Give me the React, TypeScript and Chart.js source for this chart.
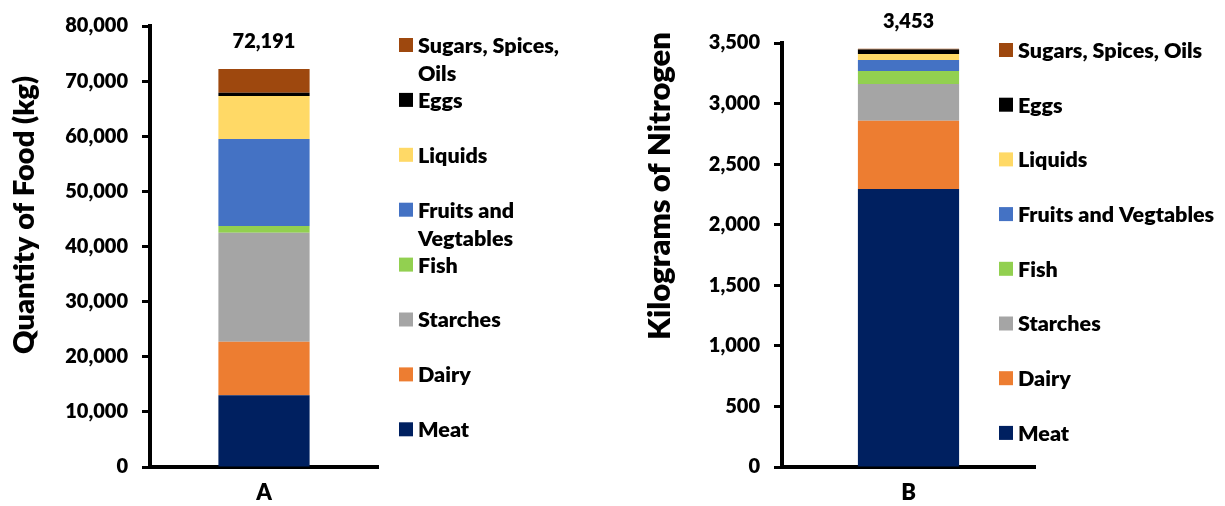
import React, { useEffect, useRef } from 'react';
import { Chart, registerables } from 'chart.js';

Chart.register(...registerables);

const FONT = 'Lato';
const WEIGHT = '800';

// Series (stack order bottom -> top)
const seriesNames = [
  'Meat',
  'Dairy',
  'Starches',
  'Fish',
  'Fruits and Vegtables',
  'Liquids',
  'Eggs',
  'Sugars, Spices, Oils',
];
const seriesColors = ['#002060', '#ED7D31', '#A5A5A5', '#92D050', '#4472C4', '#FFD966', '#000000', '#9E480E'];

// Panel A: quantity of food (kg)
const foodCategories = ['A'];
const foodQuantityKg = [13000, 9700, 19800, 1200, 15800, 7800, 600, 4291];
const foodAxis = { min: 0, max: 80000, step: 10000 };
const foodAxisTitle = 'Quantity of Food (kg)';

// Panel B: kilograms of nitrogen
const nitrogenCategories = ['B'];
const nitrogenKg = [2295, 564, 303, 107, 91, 49, 38, 6];
const nitrogenAxis = { min: 0, max: 3500, step: 500 };
const nitrogenAxisTitle = 'Kilograms of Nitrogen';

function wrapText(ctx: CanvasRenderingContext2D, text: string, maxWidth: number): string[] {
  const words = text.split(' ');
  const lines: string[] = [];
  let cur = '';
  for (const w of words) {
    const test = cur ? cur + ' ' + w : w;
    if (cur && ctx.measureText(test).width > maxWidth) {
      lines.push(cur);
      cur = w;
    } else {
      cur = test;
    }
  }
  if (cur) lines.push(cur);
  return lines;
}

const decoPlugin = {
  id: 'deco',
  afterDraw(chart: any, _args: any, opts: any) {
    const ctx: CanvasRenderingContext2D = chart.ctx;
    ctx.save();
    ctx.fillStyle = '#000';
    // totals above stacks
    ctx.font = `${WEIGHT} ${opts.totalSize}px ${FONT}`;
    ctx.textAlign = 'center';
    ctx.textBaseline = 'middle';
    const metas = chart.getSortedVisibleDatasetMetas();
    const labels = chart.data.labels as string[];
    for (let i = 0; i < labels.length; i++) {
      let total = 0;
      chart.data.datasets.forEach((d: any) => (total += Number(d.data[i])));
      const x = metas[0].data[i].x;
      const y = chart.scales.y.getPixelForValue(total);
      ctx.fillText(total.toLocaleString('en-US'), x, y - opts.totalOffset);
    }
    // legend (reverse order: top of stack first)
    ctx.font = `${WEIGHT} ${opts.legendSize}px ${FONT}`;
    ctx.textAlign = 'left';
    const ds = chart.data.datasets;
    for (let k = 0; k < ds.length; k++) {
      const d = ds[ds.length - 1 - k];
      const cy = opts.legendTop + k * opts.legendSpacing;
      ctx.fillStyle = d.backgroundColor;
      ctx.fillRect(opts.legendX, cy - opts.box / 2, opts.box, opts.box);
      ctx.fillStyle = '#000';
      const lines = wrapText(ctx, d.label, opts.legendMaxWidth);
      lines.forEach((ln, j) => {
        ctx.fillText(ln, opts.legendX + opts.box + 5, cy + j * opts.legendLineHeight + 1);
      });
    }
    // y axis title
    ctx.font = `${WEIGHT} ${opts.titleSize}px ${FONT}`;
    ctx.textAlign = 'center';
    ctx.translate(opts.titleX, opts.titleY);
    ctx.rotate(-Math.PI / 2);
    ctx.fillText(opts.title, 0, 0);
    ctx.restore();
  },
};

type PanelProps = {
  categories: string[];
  values: number[];
  axis: { min: number; max: number; step: number };
  deco: any;
  left: number;
  width: number;
  height: number;
};

function Panel({ categories, values, axis, deco, left, width, height }: PanelProps) {
  const ref = useRef<HTMLCanvasElement>(null);
  useEffect(() => {
    const chart = new Chart(ref.current as HTMLCanvasElement, {
      type: 'bar',
      data: {
        labels: categories,
        datasets: seriesNames.map((name, i) => ({
          label: name,
          data: [values[i]],
          backgroundColor: seriesColors[i],
          borderWidth: 0,
          barPercentage: 0.4,
          categoryPercentage: 1,
        })),
      },
      options: {
        animation: false,
        responsive: false,
        maintainAspectRatio: false,
        layout: { padding: { left: 0, right: deco.padRight, top: deco.padTop, bottom: 0 } },
        plugins: {
          legend: { display: false },
          tooltip: { enabled: false },
          deco,
        } as any,
        scales: {
          x: {
            stacked: true,
            grid: { display: false, drawTicks: false },
            border: { display: true, color: '#000', width: 4 },
            ticks: { color: '#000', font: { family: FONT, size: 22, weight: WEIGHT }, padding: 13 },
            afterFit: (s: any) => {
              s.height = deco.xAxisHeight;
            },
          },
          y: {
            stacked: true,
            min: axis.min,
            max: axis.max,
            ticks: {
              stepSize: axis.step,
              color: '#000',
              font: { family: FONT, size: 20, weight: WEIGHT },
              padding: 14,
              callback: (v: any) => Number(v).toLocaleString('en-US'),
            },
            grid: {
              display: true,
              drawOnChartArea: false,
              drawTicks: true,
              tickLength: 8,
              tickWidth: 3,
              color: '#000',
            },
            border: { display: true, color: '#000', width: 4 },
            afterFit: (s: any) => {
              s.width = deco.yAxisWidth;
            },
          },
        },
      } as any,
      plugins: [decoPlugin],
    });
    return () => chart.destroy();
  }, []);
  return (
    <canvas
      ref={ref}
      width={width}
      height={height}
      style={{ position: 'absolute', left, top: 0, width, height }}
    />
  );
}

export default function App() {
  return (
    <div style={{ position: 'fixed', left: 0, top: 0, width: 1225, height: 506, background: '#fff' }}>
      <Panel
        categories={foodCategories}
        values={foodQuantityKg}
        axis={foodAxis}
        left={0}
        width={625}
        height={506}
        deco={{
          padRight: 247,
          padTop: 26,
          xAxisHeight: 39,
          yAxisWidth: 150,
          totalSize: 20,
          totalOffset: 28,
          legendSize: 21.5,
          legendX: 399,
          legendTop: 45,
          legendSpacing: 54.9,
          legendLineHeight: 28,
          legendMaxWidth: 170,
          box: 14,
          titleSize: 29,
          titleX: 25,
          titleY: 215,
          title: foodAxisTitle,
        }}
      />
      <Panel
        categories={nitrogenCategories}
        values={nitrogenKg}
        axis={nitrogenAxis}
        left={625}
        width={600}
        height={506}
        deco={{
          padRight: 190,
          padTop: 43,
          xAxisHeight: 39,
          yAxisWidth: 157,
          totalSize: 20,
          totalOffset: 27,
          legendSize: 21.5,
          legendX: 374,
          legendTop: 50,
          legendSpacing: 54.7,
          legendLineHeight: 28,
          legendMaxWidth: 400,
          box: 14,
          titleSize: 31,
          titleX: 35,
          titleY: 186,
          title: nitrogenAxisTitle,
        }}
      />
    </div>
  );
}
